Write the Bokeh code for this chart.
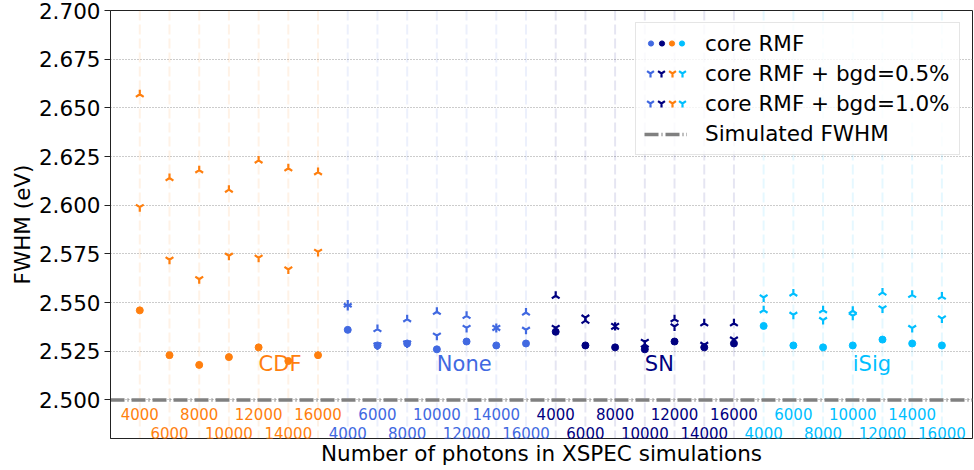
import math
from bokeh.plotting import figure
from bokeh.models import (Range1d, FixedTicker, Span, Legend, LegendItem, Title,
                          ColumnDataSource, NumeralTickFormatter)
from bokeh.core.properties import value
from bokeh.embed import file_html
from bokeh.resources import INLINE

# ---------------- data ----------------
photons = [4000, 6000, 8000, 10000, 12000, 14000, 16000]
methods = ["CDF", "None", "SN", "iSig"]
method_colors = ["#ff7f0e", "#4169e1", "#000080", "#00bfff"]

core_cdf = [2.546, 2.523, 2.518, 2.522, 2.527, 2.520, 2.523]
core_none = [2.536, 2.528, 2.529, 2.526, 2.530, 2.528, 2.529]
core_sn = [2.535, 2.528, 2.527, 2.526, 2.530, 2.527, 2.529]
core_isig = [2.538, 2.528, 2.527, 2.528, 2.531, 2.529, 2.528]

bgd05_cdf = [2.599, 2.572, 2.562, 2.574, 2.573, 2.567, 2.576]
bgd05_none = [2.5482, 2.528, 2.529, 2.533, 2.537, 2.537, 2.536]
bgd05_sn = [2.537, 2.5423, 2.538, 2.5298, 2.5377, 2.5283, 2.531]
bgd05_isig = [2.5526, 2.5437, 2.541, 2.5432, 2.547, 2.5369, 2.5418]

bgd10_cdf = [2.657, 2.614, 2.618, 2.608, 2.623, 2.619, 2.617]
bgd10_none = [2.5490, 2.5364, 2.5415, 2.5453, 2.5432, 2.537, 2.5449]
bgd10_sn = [2.5535, 2.5407, 2.5376, 2.5285, 2.5415, 2.5394, 2.5394]
bgd10_isig = [2.5461, 2.5547, 2.5461, 2.5458, 2.5552, 2.554, 2.5531]

core_all = [core_cdf, core_none, core_sn, core_isig]
bgd05_all = [bgd05_cdf, bgd05_none, bgd05_sn, bgd05_isig]
bgd10_all = [bgd10_cdf, bgd10_none, bgd10_sn, bgd10_isig]

simulated_fwhm = 2.5
y_ticks = [2.500, 2.525, 2.550, 2.575, 2.600, 2.625, 2.650, 2.675, 2.700]
group_label_x = [4, 10, 17, 24]
legend_labels = ["core RMF", "core RMF + bgd=0.5%", "core RMF + bgd=1.0%", "Simulated FWHM"]
legend_marker_order = ["None", "SN", "CDF", "iSig"]
x_title = "Number of photons in XSPEC simulations"
y_title = "FWHM (eV)"

# ---------------- layout / style ----------------
FONT = "DejaVu Sans"
FS = "21.5px"
X_LO, X_HI = -0.986, 28.03
Y_LO, Y_HI = 2.4802, 2.70
LABEL_Y_TOP = 2.4926
LABEL_Y_BOT = 2.4829
GROUP_LABEL_Y = 2.5185

p = figure(width=974, height=470,
           x_range=Range1d(X_LO, X_HI), y_range=Range1d(Y_LO, Y_HI),
           output_backend="svg", toolbar_location=None,
           min_border_left=110, min_border_right=2,
           min_border_top=10, min_border_bottom=32)

p.outline_line_color = "#222222"
p.outline_line_width = 1
p.xgrid.visible = False
p.ygrid.grid_line_color = "#999999"
p.ygrid.grid_line_dash = "1 2"
p.ygrid.grid_line_width = 1

# y axis
p.yaxis.ticker = FixedTicker(ticks=y_ticks)
p.yaxis.formatter = NumeralTickFormatter(format="0.000")
p.yaxis.major_tick_out = 6
p.yaxis.major_tick_in = 0
p.yaxis.minor_tick_out = 0
p.yaxis.minor_tick_in = 0
p.yaxis.major_label_standoff = 4
p.yaxis.major_label_text_font = FONT
p.yaxis.major_label_text_font_size = FS
p.yaxis.major_label_text_color = "black"
p.yaxis.axis_line_color = "#222222"
p.yaxis.major_tick_line_color = "#222222"
p.yaxis.axis_label = y_title
p.yaxis.axis_label_text_font = FONT
p.yaxis.axis_label_text_font_size = FS
p.yaxis.axis_label_text_font_style = "normal"
p.yaxis.axis_label_text_color = "black"
p.yaxis.axis_label_standoff = 1

# x axis: hidden (frame outline draws the bottom spine); tick labels are text inside the frame
p.xaxis.visible = False
p.add_layout(Title(text=x_title, align="center", text_font=FONT, text_font_size=FS,
                   text_font_style="normal", text_color="black", standoff=1, offset=0),
             "below")

n_per = len(photons)

# vertical dashed guide lines per tick
for g, color in enumerate(method_colors):
    for k in range(n_per):
        p.add_layout(Span(location=g * n_per + k, dimension="height",
                          line_color=color, line_alpha=0.1, line_width=2,
                          line_dash="10 4", level="underlay"))

# simulated FWHM line
hline = p.line(x=[X_LO, X_HI], y=[simulated_fwhm, simulated_fwhm],
               line_color="gray", line_width=3.5, line_dash="14 3 1 3")

# data markers
renderers = {}
for g, (name, color) in enumerate(zip(methods, method_colors)):
    xs = [g * n_per + k for k in range(n_per)]
    src = ColumnDataSource(dict(x=xs, core=core_all[g], b05=bgd05_all[g], b10=bgd10_all[g]))
    r_core = p.scatter("x", "core", source=src, marker="circle", size=7,
                       fill_color=color, line_color=color)
    r_05 = p.scatter("x", "b05", source=src, marker="y", size=9,
                     line_color=color, line_width=2.2)
    r_10 = p.scatter("x", "b10", source=src, marker="y", size=9, angle=math.pi,
                     line_color=color, line_width=2.2)
    renderers[name] = (r_core, r_05, r_10)

# tick labels inside the frame (two staggered rows)
tx, ty, tt, tc = [], [], [], []
for g, color in enumerate(method_colors):
    for k, n in enumerate(photons):
        i = g * n_per + k
        tx.append(i)
        ty.append(LABEL_Y_TOP if i % 2 == 0 else LABEL_Y_BOT)
        tt.append(str(n))
        tc.append(color)
p.text(x="x", y="y", text="t", text_color="c",
       source=ColumnDataSource(dict(x=tx, y=ty, t=tt, c=tc)),
       text_font=value(FONT), text_font_size="15px",
       text_align="center", text_baseline="middle")

# group labels
p.text(x="x", y="y", text="t", text_color="c",
       source=ColumnDataSource(dict(x=group_label_x, y=[GROUP_LABEL_Y] * len(methods),
                                    t=methods, c=method_colors)),
       text_font=value(FONT), text_font_size="21px",
       text_align="left", text_baseline="middle")

# ---------------- legend ----------------
dummy = p.scatter(x=[], y=[], marker="circle", size=0, fill_alpha=0, line_alpha=0)

common = dict(location="top_right", margin=12, padding=8, spacing=5,
              glyph_height=24, label_height=24, label_width=246,
              label_text_font=FONT, label_text_font_size=FS)
MAIN_GW, MAIN_SO = 43, 18

main_leg = Legend(items=[LegendItem(label=legend_labels[0], renderers=[dummy]),
                         LegendItem(label=legend_labels[1], renderers=[dummy]),
                         LegendItem(label=legend_labels[2], renderers=[dummy]),
                         LegendItem(label=legend_labels[3], renderers=[hline])],
                  glyph_width=MAIN_GW, label_standoff=MAIN_SO,
                  border_line_color="#cccccc", border_line_width=1,
                  background_fill_color="white", background_fill_alpha=0.8,
                  label_text_color="black", **common)
p.add_layout(main_leg)

for k, name in enumerate(legend_marker_order):
    off = 5.5 + 10.5 * k
    r_core, r_05, r_10 = renderers[name]
    for gw, rows in ((13, [r_core, dummy, dummy, dummy]),
                     (20, [dummy, r_05, r_10, dummy])):
        so = int(round(MAIN_GW + MAIN_SO - off - gw / 2))
        leg = Legend(items=[LegendItem(label=lab, renderers=[r]) for lab, r in zip(legend_labels, rows)],
                     glyph_width=gw, label_standoff=so,
                     border_line_alpha=0, background_fill_alpha=0,
                     label_text_alpha=0, **common)
        p.add_layout(leg)

open("out.html", "w").write(file_html(p, INLINE))
